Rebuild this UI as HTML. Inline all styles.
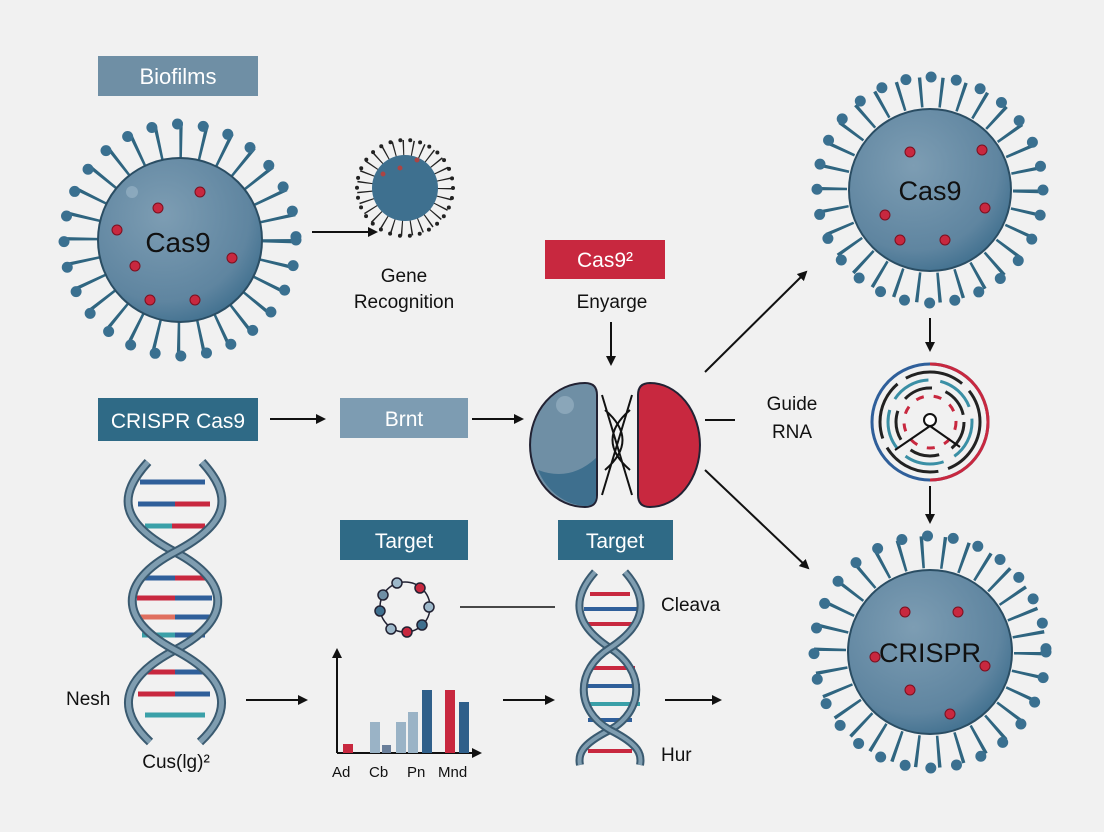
<!DOCTYPE html>
<html><head><meta charset="utf-8"><style>
html,body{margin:0;padding:0;background:#f1f1f1;}
svg{display:block;font-family:"Liberation Sans",sans-serif;}
</style></head><body>
<svg width="1104" height="832" viewBox="0 0 1104 832" xmlns="http://www.w3.org/2000/svg">
<defs>
<marker id="ah" markerWidth="10" markerHeight="10" refX="8" refY="5" orient="auto" markerUnits="userSpaceOnUse"><path d="M0,0 L10,5 L0,10 z" fill="#111"/></marker>
<radialGradient id="vg" cx="40%" cy="35%" r="70%"><stop offset="0" stop-color="#7d9db3"/><stop offset="0.75" stop-color="#5f85a0"/><stop offset="1" stop-color="#3f6f8e"/></radialGradient>
</defs>
<rect width="1104" height="832" fill="#f1f1f1"/>

<!-- Virus 1 -->
<g transform="translate(180,240)">
<circle r="100" fill="none" stroke="#2f6580" stroke-width="36" stroke-dasharray="3 19.4"/>
<circle r="116" fill="none" stroke="#3a7090" stroke-width="11" stroke-linecap="round" stroke-dasharray="0 25.9"/>
<circle r="82" fill="url(#vg)" stroke="#2a4d63" stroke-width="2"/>
<circle cx="-48" cy="-48" r="6" fill="#9db8ca" opacity=".6"/>
<g fill="#c8283f" stroke="#7a1020" stroke-width="1"><circle cx="20" cy="-48" r="5"/><circle cx="-22" cy="-32" r="5"/><circle cx="-63" cy="-10" r="5"/><circle cx="52" cy="18" r="5"/><circle cx="-45" cy="26" r="5"/><circle cx="-30" cy="60" r="5"/><circle cx="15" cy="60" r="5"/></g>
<text x="-2" y="12" font-size="28" text-anchor="middle" fill="#111">Cas9</text>
</g>

<!-- small virus -->
<g transform="translate(405,188)">
<circle r="40" fill="none" stroke="#222" stroke-width="16" stroke-dasharray="1.3 8"/>
<circle r="48" fill="none" stroke="#222" stroke-width="4" stroke-linecap="round" stroke-dasharray="0 10.05"/>
<circle r="33" fill="#3e708f"/>
<circle cx="-22" cy="-14" r="2.5" fill="#a44"/><circle cx="-5" cy="-20" r="2.5" fill="#a44"/><circle cx="12" cy="-28" r="2.5" fill="#a44"/>
</g>
<line x1="312" y1="232" x2="376" y2="232" stroke="#111" stroke-width="2" marker-end="url(#ah)"/>
<text x="404" y="282" font-size="19" text-anchor="middle" fill="#111">Gene</text>
<text x="404" y="308" font-size="19" text-anchor="middle" fill="#111">Recognition</text>

<!-- boxes -->
<rect x="98" y="56" width="160" height="40" fill="#6f8fa5"/>
<text x="178" y="84" font-size="22" text-anchor="middle" fill="#fff">Biofilms</text>
<rect x="545" y="240" width="120" height="39" fill="#c8283f"/>
<text x="605" y="267" font-size="21" text-anchor="middle" fill="#fff">Cas9²</text>
<text x="612" y="308" font-size="19" text-anchor="middle" fill="#111">Enyarge</text>
<line x1="611" y1="322" x2="611" y2="364" stroke="#111" stroke-width="2" marker-end="url(#ah)"/>
<rect x="98" y="398" width="160" height="43" fill="#2f6a86"/>
<text x="178" y="428" font-size="21" text-anchor="middle" fill="#fff">CRISPR Cas9</text>
<line x1="270" y1="419" x2="324" y2="419" stroke="#111" stroke-width="2" marker-end="url(#ah)"/>
<rect x="340" y="398" width="128" height="40" fill="#7d9cb2"/>
<text x="404" y="426" font-size="21" text-anchor="middle" fill="#fff">Brnt</text>
<line x1="472" y1="419" x2="522" y2="419" stroke="#111" stroke-width="2" marker-end="url(#ah)"/>

<!-- split capsule -->
<path d="M585,383 Q597,383 597,395 L597,495 Q597,507 585,507 A55,62 0 0 1 585,383 Z" fill="#6f8fa5" stroke="#223" stroke-width="2"/>
<path d="M596,458 L596,496 Q596,506 585,506 A55,62 0 0 1 538,470 Q570,482 596,458Z" fill="#3e6f8e"/>
<circle cx="565" cy="405" r="9" fill="#9db5c6" opacity=".6"/>
<path d="M650,383 A50,62 0 0 1 650,507 Q638,507 638,495 L638,395 Q638,383 650,383 Z" fill="#c8283f" stroke="#223" stroke-width="2"/>
<path d="M602,395 L632,495 M632,395 L602,495 M605,410 Q640,440 605,470 M630,410 Q595,440 630,470" stroke="#111" stroke-width="2" fill="none"/>

<line x1="705" y1="372" x2="806" y2="272" stroke="#111" stroke-width="2" marker-end="url(#ah)"/>
<line x1="705" y1="420" x2="735" y2="420" stroke="#111" stroke-width="2"/>
<text x="792" y="410" font-size="19" text-anchor="middle" fill="#111">Guide</text>
<text x="792" y="438" font-size="19" text-anchor="middle" fill="#111">RNA</text>
<line x1="705" y1="470" x2="808" y2="568" stroke="#111" stroke-width="2" marker-end="url(#ah)"/>

<!-- Virus top right -->
<g transform="translate(930,190)">
<circle r="98" fill="none" stroke="#2f6580" stroke-width="30" stroke-dasharray="3 17.5"/>
<circle r="113" fill="none" stroke="#3a7090" stroke-width="11" stroke-linecap="round" stroke-dasharray="0 25.4"/>
<circle r="81" fill="url(#vg)" stroke="#2a4d63" stroke-width="2"/>
<g fill="#c8283f" stroke="#7a1020"><circle cx="-20" cy="-38" r="5"/><circle cx="52" cy="-40" r="5"/><circle cx="-45" cy="25" r="5"/><circle cx="-30" cy="50" r="5"/><circle cx="15" cy="50" r="5"/><circle cx="55" cy="18" r="5"/></g>
<text x="0" y="10" font-size="27" text-anchor="middle" fill="#111">Cas9</text>
</g>
<line x1="930" y1="318" x2="930" y2="350" stroke="#111" stroke-width="2" marker-end="url(#ah)"/>

<!-- guide RNA circle -->
<g transform="translate(930,422)" fill="none" stroke-width="3">
<circle r="58" stroke="#2f5f9a"/>
<path d="M0,-58 A58,58 0 0 1 0,58" stroke="#c8283f"/>
<circle r="50" stroke="#222" stroke-dasharray="60 10"/>
<circle r="42" stroke="#3a8fa5" stroke-dasharray="40 12"/>
<circle r="34" stroke="#222" stroke-dasharray="30 14"/>
<circle r="26" stroke="#c8283f" stroke-dasharray="8 10"/>
<circle cx="0" cy="-2" r="6" stroke="#111" fill="#fff" stroke-width="2"/>
<path d="M0,4 L-35,28 M0,4 L30,25" stroke="#111" stroke-width="2"/>
</g>
<line x1="930" y1="486" x2="930" y2="522" stroke="#111" stroke-width="2" marker-end="url(#ah)"/>

<!-- Virus bottom right -->
<g transform="translate(930,652)">
<circle r="100" fill="none" stroke="#2f6580" stroke-width="32" stroke-dasharray="3 18"/>
<circle r="116" fill="none" stroke="#3a7090" stroke-width="11" stroke-linecap="round" stroke-dasharray="0 25.9"/>
<circle r="82" fill="url(#vg)" stroke="#2a4d63" stroke-width="2"/>
<g fill="#c8283f" stroke="#7a1020"><circle cx="-25" cy="-40" r="5"/><circle cx="28" cy="-40" r="5"/><circle cx="-55" cy="5" r="5"/><circle cx="55" cy="14" r="5"/><circle cx="-20" cy="38" r="5"/><circle cx="20" cy="62" r="5"/></g>
<text x="0" y="10" font-size="27" text-anchor="middle" fill="#111">CRISPR</text>
</g>

<!-- left DNA -->
<g stroke-width="5">
<line x1="140" y1="482" x2="205" y2="482" stroke="#2f5f9a"/><line x1="138" y1="504" x2="175" y2="504" stroke="#2f5f9a"/><line x1="175" y1="504" x2="210" y2="504" stroke="#c8283f"/><line x1="145" y1="526" x2="172" y2="526" stroke="#3aa0a8"/><line x1="172" y1="526" x2="205" y2="526" stroke="#c8283f"/>
<line x1="145" y1="578" x2="175" y2="578" stroke="#2f5f9a"/><line x1="175" y1="578" x2="205" y2="578" stroke="#c8283f"/><line x1="137" y1="598" x2="175" y2="598" stroke="#c8283f"/><line x1="175" y1="598" x2="212" y2="598" stroke="#2f5f9a"/><line x1="137" y1="617" x2="175" y2="617" stroke="#e07060"/><line x1="175" y1="617" x2="212" y2="617" stroke="#2f5f9a"/><line x1="142" y1="635" x2="175" y2="635" stroke="#3aa0a8"/><line x1="175" y1="635" x2="205" y2="635" stroke="#2f5f9a"/>
<line x1="145" y1="672" x2="175" y2="672" stroke="#c8283f"/><line x1="175" y1="672" x2="205" y2="672" stroke="#2f5f9a"/><line x1="138" y1="694" x2="175" y2="694" stroke="#c8283f"/><line x1="175" y1="694" x2="210" y2="694" stroke="#2f5f9a"/><line x1="145" y1="715" x2="205" y2="715" stroke="#3aa0a8"/>
</g>
<g fill="none">
<path d="M148,462 C118,495 118,522 175,552 C232,582 232,620 175,650 C118,680 118,712 150,742" stroke="#3a5a70" stroke-width="9"/>
<path d="M148,462 C118,495 118,522 175,552 C232,582 232,620 175,650 C118,680 118,712 150,742" stroke="#7f9db0" stroke-width="5"/>
<path d="M202,462 C232,495 232,522 175,552 C118,582 118,620 175,650 C232,680 232,712 200,742" stroke="#3a5a70" stroke-width="9"/>
<path d="M202,462 C232,495 232,522 175,552 C118,582 118,620 175,650 C232,680 232,712 200,742" stroke="#7f9db0" stroke-width="5"/>
</g>
<text x="66" y="705" font-size="19" fill="#111">Nesh</text>
<text x="176" y="768" font-size="19" text-anchor="middle" fill="#111">Cus(lg)²</text>
<line x1="246" y1="700" x2="306" y2="700" stroke="#111" stroke-width="2" marker-end="url(#ah)"/>

<!-- Target / ring -->
<rect x="340" y="520" width="128" height="40" fill="#2f6a86"/>
<text x="404" y="548" font-size="21" text-anchor="middle" fill="#fff">Target</text>
<rect x="558" y="520" width="115" height="40" fill="#2f6a86"/>
<text x="615" y="548" font-size="21" text-anchor="middle" fill="#fff">Target</text>
<g transform="translate(405,607)" stroke="#223" stroke-width="1.5">
<circle r="25" fill="none"/>
<circle cx="-8" cy="-24" r="5" fill="#9db8ca"/><circle cx="15" cy="-19" r="5" fill="#c8283f"/><circle cx="24" cy="0" r="5" fill="#9db8ca"/><circle cx="17" cy="18" r="5" fill="#3e6f8e"/><circle cx="2" cy="25" r="5" fill="#c8283f"/><circle cx="-14" cy="22" r="5" fill="#9db8ca"/><circle cx="-25" cy="4" r="5" fill="#3e6f8e"/><circle cx="-22" cy="-12" r="5" fill="#6f8fa5"/>
</g>
<line x1="460" y1="607" x2="555" y2="607" stroke="#111" stroke-width="1.5"/>

<!-- chart -->
<line x1="337" y1="753" x2="337" y2="650" stroke="#111" stroke-width="2" marker-end="url(#ah)"/>
<line x1="337" y1="753" x2="480" y2="753" stroke="#111" stroke-width="2" marker-end="url(#ah)"/>
<rect x="343" y="744" width="10" height="9" fill="#c8283f"/>
<rect x="370" y="722" width="10" height="31" fill="#9ab3c6"/>
<rect x="382" y="745" width="9" height="8" fill="#6a7f9a"/>
<rect x="396" y="722" width="10" height="31" fill="#9ab3c6"/>
<rect x="408" y="712" width="10" height="41" fill="#9ab3c6"/>
<rect x="422" y="690" width="10" height="63" fill="#2f5f8a"/>
<rect x="445" y="690" width="10" height="63" fill="#c8283f"/>
<rect x="459" y="702" width="10" height="51" fill="#2f5f8a"/>
<text x="332" y="777" font-size="15" fill="#111">Ad</text>
<text x="369" y="777" font-size="15" fill="#111">Cb</text>
<text x="407" y="777" font-size="15" fill="#111">Pn</text>
<text x="438" y="777" font-size="15" fill="#111">Mnd</text>
<line x1="503" y1="700" x2="553" y2="700" stroke="#111" stroke-width="2" marker-end="url(#ah)"/>

<!-- right DNA -->
<g stroke-width="4">
<line x1="590" y1="594" x2="630" y2="594" stroke="#c8283f"/><line x1="584" y1="609" x2="638" y2="609" stroke="#2f5f9a"/><line x1="588" y1="624" x2="632" y2="624" stroke="#c8283f"/>
<line x1="588" y1="668" x2="635" y2="668" stroke="#c8283f"/><line x1="583" y1="686" x2="640" y2="686" stroke="#2f5f9a"/><line x1="583" y1="704" x2="640" y2="704" stroke="#3aa0a8"/><line x1="588" y1="720" x2="632" y2="720" stroke="#2f5f9a"/>
<line x1="588" y1="751" x2="632" y2="751" stroke="#c8283f"/>
</g>
<g fill="none">
<path d="M595,572 C570,600 575,625 610,648 C645,670 645,710 610,730 C580,745 578,755 580,765" stroke="#3a5a70" stroke-width="8"/>
<path d="M595,572 C570,600 575,625 610,648 C645,670 645,710 610,730 C580,745 578,755 580,765" stroke="#7f9db0" stroke-width="4"/>
<path d="M625,572 C650,600 645,625 610,648 C575,670 575,710 610,730 C640,745 642,755 640,765" stroke="#3a5a70" stroke-width="8"/>
<path d="M625,572 C650,600 645,625 610,648 C575,670 575,710 610,730 C640,745 642,755 640,765" stroke="#7f9db0" stroke-width="4"/>
</g>
<text x="661" y="611" font-size="19" fill="#111">Cleava</text>
<text x="661" y="761" font-size="19" fill="#111">Hur</text>
<line x1="665" y1="700" x2="720" y2="700" stroke="#111" stroke-width="2" marker-end="url(#ah)"/>
</svg>
</body></html>
